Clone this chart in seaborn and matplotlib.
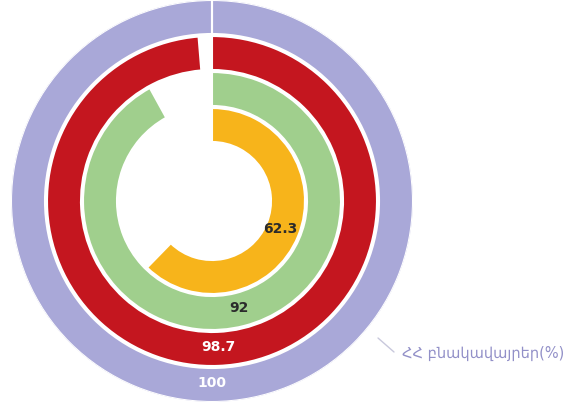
import numpy as np
import matplotlib
matplotlib.use("Agg")
import matplotlib.pyplot as plt
import seaborn as sns

# ring values, outer to inner (percent)
values = [100, 98.7, 92, 62.3]
ring_colors = ["#a9a8d8", "#c4161f", "#a0cf8d", "#f7b41b"]
text_colors = ["white", "white", "#2b2b2b", "#2b2b2b"]
series_label = "ՀՀ բնակավայրեր(%)"

sns.set_theme(style="white")
plt.rcParams['font.family'] = ['DejaVu Sans', 'Noto Sans']

fig = plt.figure(figsize=(5.71, 4.05), dpi=100)
ax = fig.add_axes([11 / 571, 3 / 405, 402 / 571, 402 / 405], projection="polar")
ax.set_theta_zero_location("N")
ax.set_theta_direction(-1)

ring_width = 34
ring_step = 36
outer = 201
for i, (v, c, tc) in enumerate(zip(values, ring_colors, text_colors)):
    r_out = outer - i * ring_step
    r_mid = r_out - ring_width / 2
    theta = 2 * np.pi * v / 100
    ax.barh(r_mid, theta, height=ring_width, left=0, color=c,
            edgecolor="white", linewidth=1.5, align="center")
    ax.text(theta / 2, r_mid - 2, f"{v:g}", ha="center", va="center",
            color=tc, fontsize=10, fontweight="bold")

ax.set_ylim(0, outer)
ax.set_xticks([])
ax.set_yticks([])
ax.grid(False)
ax.spines["polar"].set_visible(False)

# series label with leader line
fig.add_artist(plt.Line2D([378 / 571, 394 / 571], [1 - 338 / 405, 1 - 352 / 405],
                          color="#c8c8dc", linewidth=1))
fig.text(402 / 571, 1 - 353 / 405, series_label, color="#9290c8",
         fontsize=10.5, ha="left", va="center")

fig.savefig("out.png", dpi=100)
